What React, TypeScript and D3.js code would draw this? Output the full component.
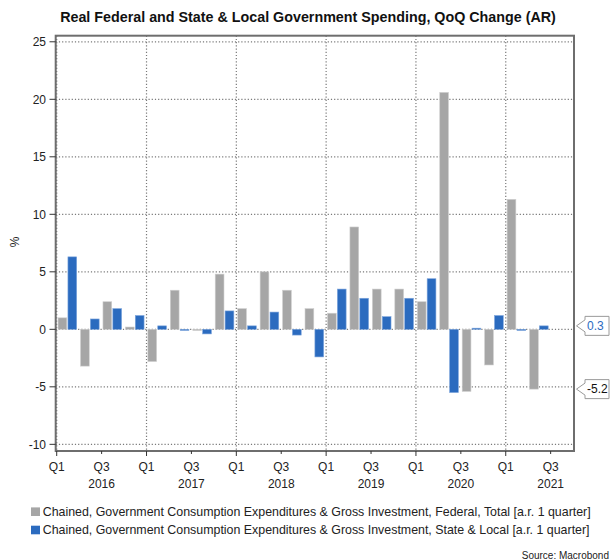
import React from "react";
import * as d3 from "d3";

const W = 610;
const H = 560;

const title = "Real Federal and State & Local Government Spending, QoQ Change (AR)";
const federal = [1.0, -3.2, 2.4, 0.2, -2.8, 3.4, -0.1, 4.8, 1.8, 5.0, 3.4, 1.8, 1.4, 8.9, 3.5, 3.5, 2.4, 20.6, -5.4, -3.1, 11.3, -5.2];
const stateLocal = [6.3, 0.9, 1.8, 1.2, 0.3, -0.1, -0.4, 1.6, 0.3, 1.5, -0.5, -2.4, 3.5, 2.7, 1.1, 2.7, 4.4, -5.5, 0.1, 1.2, -0.1, 0.3];
const yTicks = [-10, -5, 0, 5, 10, 15, 20, 25];
const years = [2016, 2017, 2018, 2019, 2020, 2021];
const quarterLabels = ["Q1", "Q3"];
const legendLabels = [
  "Chained, Government Consumption Expenditures & Gross Investment, Federal, Total [a.r. 1 quarter]",
  "Chained, Government Consumption Expenditures & Gross Investment, State & Local [a.r. 1 quarter]",
];

const GREY = "#a6a6a6";
const BLUE = "#2b6bbf";
const FONT = "'Liberation Sans', Arial, sans-serif";

export default function App() {
  const left = 55.7, right = 574, top = 35.7, bottom = 451;
  const x = d3.scaleLinear().domain([-0.045, 23.04]).range([left, right]);
  const y = d3.scaleLinear().domain([-10.58, 25.53]).range([bottom, top]);
  const q = x(1) - x(0);
  const bw = 0.39 * q;
  const gridColor = "#7a7a7a";

  const qTicks: { i: number; label: string }[] = [];
  years.forEach((yr, k) => {
    qTicks.push({ i: k * 4, label: quarterLabels[0] });
    qTicks.push({ i: k * 4 + 2, label: quarterLabels[1] });
  });

  const lastFed = federal[federal.length - 1];
  const lastSL = stateLocal[stateLocal.length - 1];
  const callouts = [
    { v: lastSL, color: BLUE },
    { v: lastFed, color: "#111" },
  ];

  return (
    <svg width={W} height={H} style={{ position: "absolute", left: 0, top: 0, background: "#fff" }} fontFamily={FONT}>
      <text x={308} y={17} dy="0.36em" textAnchor="middle" fontSize={14.3} fontWeight="bold" fill="#111">{title}</text>

      {/* horizontal grid */}
      {yTicks.map((t) => (
        <line key={"h" + t} x1={left} x2={right} y1={y(t)} y2={y(t)} stroke={gridColor} strokeWidth={1.2} strokeDasharray="1.2,2" />
      ))}
      {/* vertical grid */}
      {years.map((yr, k) => (
        <line key={"v" + yr} x1={x(k * 4)} x2={x(k * 4)} y1={top} y2={bottom} stroke={gridColor} strokeWidth={1.2} strokeDasharray="1.2,2" />
      ))}

      {/* bars */}
      {federal.map((v, i) => (
        <rect key={"f" + i} x={x(i) + 0.06 * q} width={bw} y={Math.min(y(v), y(0))} height={Math.abs(y(v) - y(0))} fill={GREY} stroke="#cfcfcf" strokeWidth={0.6} />
      ))}
      {stateLocal.map((v, i) => (
        <rect key={"s" + i} x={x(i) + 0.5 * q} width={bw} y={Math.min(y(v), y(0))} height={Math.max(Math.abs(y(v) - y(0)), 0.8)} fill={BLUE} stroke="#7ea6dc" strokeWidth={0.6} />
      ))}

      {/* frame */}
      <rect x={left} y={top} width={right - left} height={bottom - top} fill="none" stroke="#6e6e6e" strokeWidth={2} />

      {/* y axis */}
      {yTicks.map((t) => (
        <g key={"yt" + t}>
          <line x1={49.5} x2={left} y1={y(t)} y2={y(t)} stroke="#333" strokeWidth={1} />
          <text x={46} y={y(t)} dy="0.35em" textAnchor="end" fontSize={12} fill="#222">{t}</text>
        </g>
      ))}
      <text transform={`translate(15,242) rotate(-90)`} dy="0.35em" textAnchor="middle" fontSize={12} fill="#222">%</text>

      {/* x axis */}
      {qTicks.map((t) => (
        <g key={"xt" + t.i}>
          <line x1={x(t.i)} x2={x(t.i)} y1={bottom} y2={bottom + (t.label === "Q1" ? 5 : 3)} stroke="#333" strokeWidth={1} />
          <text x={x(t.i)} y={466.7} dy="0.36em" textAnchor="middle" fontSize={12} fill="#222">{t.label}</text>
        </g>
      ))}
      {years.map((yr, k) => (
        <text key={"yr" + yr} x={x(k * 4 + 2)} y={484} dy="0.36em" textAnchor="middle" fontSize={12} fill="#222">{yr}</text>
      ))}

      {/* callouts */}
      {callouts.map((c, k) => {
        const cy = y(c.v);
        const tipX = right + 2.5;
        const bx = 585, bw2 = 24, bh = 19;
        const path = `M${tipX},${cy} L${bx},${cy - 6} L${bx},${cy - bh / 2} L${bx + bw2},${cy - bh / 2} L${bx + bw2},${cy + bh / 2} L${bx},${cy + bh / 2} L${bx},${cy + 6} Z`;
        return (
          <g key={"c" + k}>
            <path d={path} fill="#fff" stroke="#9a9a9a" strokeWidth={1} />
            <text x={bx + 2} y={cy} dy="0.36em" fontSize={12} fill={c.color}>{c.v.toFixed(1)}</text>
          </g>
        );
      })}

      {/* legend */}
      {legendLabels.map((l, k) => (
        <g key={"lg" + k} transform={`translate(31,${511.7 + k * 18.3})`}>
          <rect x={0} y={-4.3} width={9} height={8.6} fill={k === 0 ? GREY : BLUE} />
          <text x={11.7} y={0} dy="0.36em" fontSize={12.4} fill="#222">{l}</text>
        </g>
      ))}

      <text x={609} y={555} dy="0.36em" textAnchor="end" fontSize={10} fill="#222">Source: Macrobond</text>
    </svg>
  );
}
